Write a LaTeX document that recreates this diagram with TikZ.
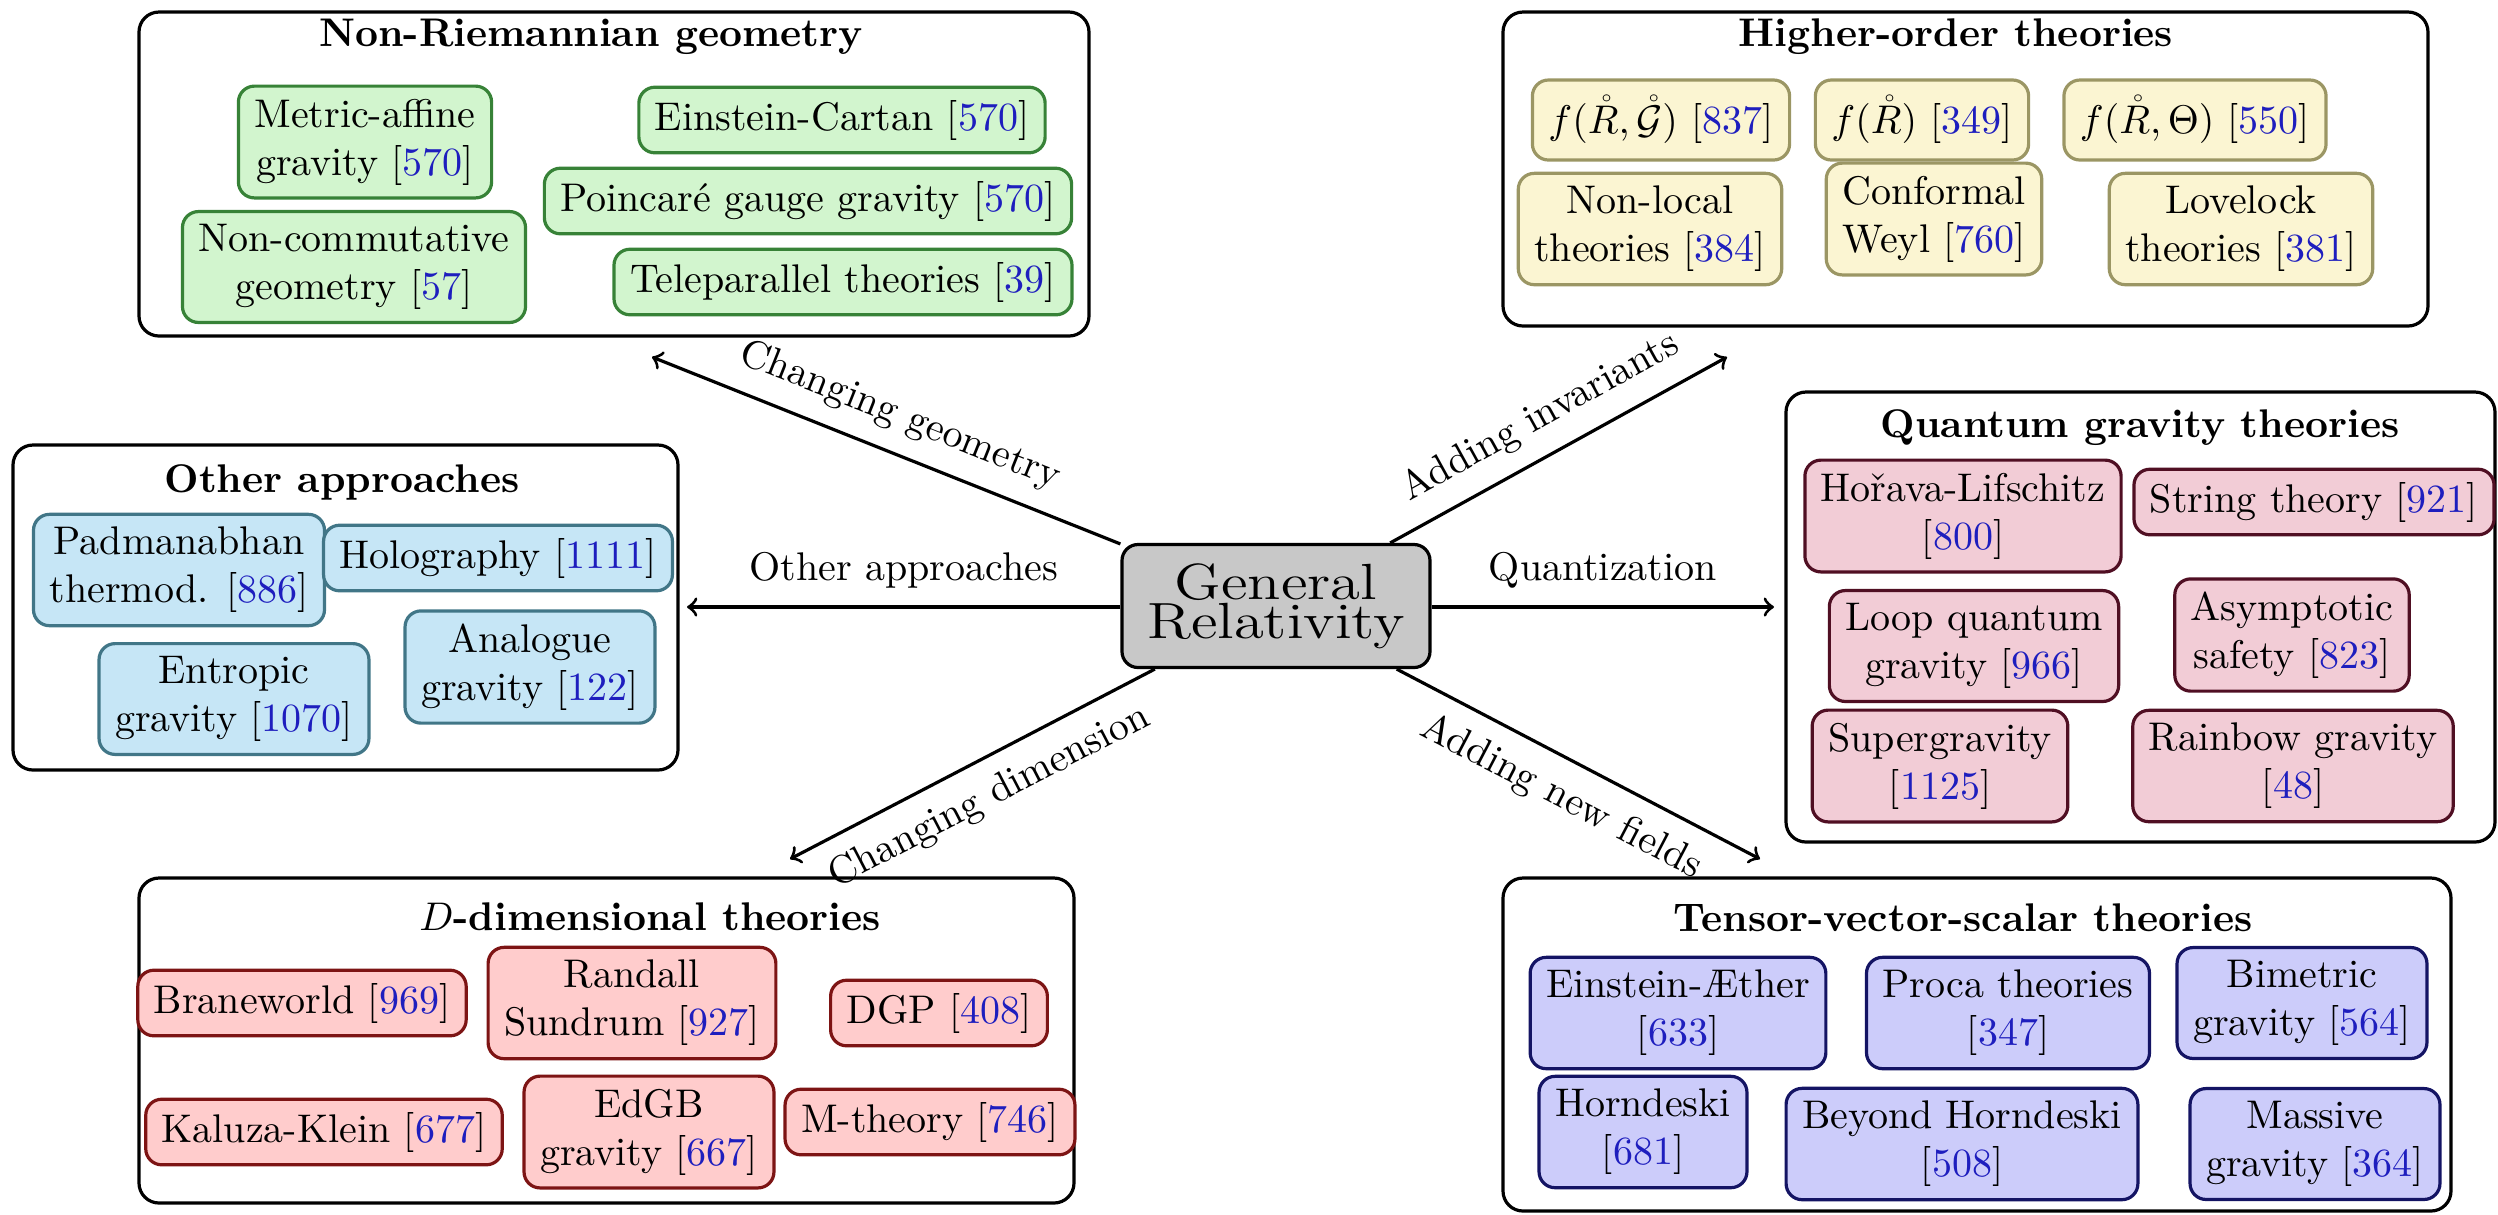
\documentclass[tikz,border=0pt]{standalone}
\usetikzlibrary{fit}
\definecolor{citeblue}{RGB}{30,30,190}
\definecolor{nrfill}{RGB}{210,245,206}
\definecolor{nrdraw}{RGB}{55,130,55}
\definecolor{hofill}{RGB}{251,245,210}
\definecolor{hodraw}{RGB}{155,150,100}
\definecolor{oafill}{RGB}{198,230,246}
\definecolor{oadraw}{RGB}{65,118,135}
\definecolor{qgfill}{RGB}{242,204,214}
\definecolor{qgdraw}{RGB}{80,15,35}
\definecolor{ddfill}{RGB}{255,204,204}
\definecolor{dddraw}{RGB}{125,20,20}
\definecolor{tvfill}{RGB}{204,204,250}
\definecolor{tvdraw}{RGB}{20,20,100}
\definecolor{grfill}{RGB}{200,200,200}
\newcommand\refn[1]{[\textcolor{citeblue}{#1}]}
\tikzset{
  item/.style={draw, thick, rounded corners=4pt, align=center,
    inner xsep=4pt, inner ysep=3.2pt},
  nr/.style={item, fill=nrfill, draw=nrdraw},
  ho/.style={item, fill=hofill, draw=hodraw},
  hom/.style={ho, minimum height=20pt},
  oa/.style={item, fill=oafill, draw=oadraw},
  qg/.style={item, fill=qgfill, draw=qgdraw},
  dd/.style={item, fill=ddfill, draw=dddraw},
  tv/.style={item, fill=tvfill, draw=tvdraw},
  group/.style={draw, thick, rounded corners=5pt, inner sep=0pt},
  gtitle/.style={font=\bfseries, inner sep=0pt},
  grnode/.style={draw, thick, fill=grfill, rounded corners=4pt,
    minimum width=77pt, minimum height=30.75pt, inner sep=0pt},
  conn/.style={->, thick},
  lab/.style={midway, sloped}
}
\begin{document}
\begin{tikzpicture}[x=0.25pt, y=-0.25pt]
\useasboundingbox (0,0) rectangle (2498,1214);

% ---------- group boxes ----------
\node[group, fit={(139,12)(1089,336)}] (nrbox) {};
\node[group, fit={(1503,12)(2428,326)}] (hobox) {};
\node[group, fit={(13,445)(678,770)}] (oabox) {};
\node[group, fit={(1786,392)(2495,842)}] (qgbox) {};
\node[group, fit={(139,878)(1074,1203)}] (ddbox) {};
\node[group, fit={(1503,878)(2451,1211)}] (tvbox) {};

% ---------- titles ----------
\node[gtitle] (nrt) at (591,37) {Non-Riemannian geometry};
\node[gtitle] (hot) at (1956,37) {Higher-order theories};
\node[gtitle] (oat) at (342,482) {Other approaches};
\node[gtitle] (qgt) at (2140,428) {Quantum gravity theories};
\node[gtitle] (ddt) at (650,917) {$D$-dimensional theories};
\node[gtitle] (tvt) at (1963,918) {Tensor-vector-scalar theories};

% ---------- Non-Riemannian ----------
\node[nr] (ma) at (365,142) {Metric-affine\\gravity \refn{570}};
\node[nr] (ec) at (842,120) {Einstein-Cartan \refn{570}};
\node[nr] (pg) at (808,201) {Poincaré gauge gravity \refn{570}};
\node[nr] (nc) at (354,267) {Non-commutative\\geometry \refn{57}};
\node[nr] (tp) at (843,282) {Teleparallel theories \refn{39}};

% ---------- Higher-order ----------
\node[hom] (f1) at (1661,120) {$f(\mathring{R},\mathring{\mathcal{G}})$ \refn{837}};
\node[hom] (f2) at (1922,120) {$f(\mathring{R})$ \refn{349}};
\node[hom] (f3) at (2195,120) {$f(\mathring{R},\Theta)$ \refn{550}};
\node[ho] (nl) at (1650,229) {Non-local\\theories \refn{384}};
\node[ho] (cw) at (1934,219) {Conformal\\Weyl \refn{760}};
\node[ho] (ll) at (2241,229) {Lovelock\\theories \refn{381}};

% ---------- Other approaches ----------
\node[oa] (pt) at (179,570) {Padmanabhan\\thermod. \refn{886}};
\node[oa] (hg) at (498,558) {Holography \refn{1111}};
\node[oa] (en) at (234,699) {Entropic\\gravity \refn{1070}};
\node[oa] (an) at (530,667) {Analogue\\gravity \refn{122}};

% ---------- Quantum gravity ----------
\node[qg] (hl) at (1963,516) {Hořava-Lifschitz\\\refn{800}};
\node[qg] (st) at (2314,502) {String theory \refn{921}};
\node[qg] (lq) at (1974,646) {Loop quantum\\gravity \refn{966}};
\node[qg] (as) at (2292,635) {Asymptotic\\safety \refn{823}};
\node[qg] (sg) at (1940,766) {Supergravity\\\refn{1125}};
\node[qg] (rb) at (2293,766) {Rainbow gravity\\\refn{48}};

% ---------- D-dimensional ----------
\node[dd] (bw) at (302,1003) {Braneworld \refn{969}};
\node[dd] (rs) at (632,1003) {Randall\\Sundrum \refn{927}};
\node[dd] (dgp) at (939,1013) {DGP \refn{408}};
\node[dd] (kk) at (324,1132) {Kaluza-Klein \refn{677}};
\node[dd] (eg) at (649,1132) {EdGB\\gravity \refn{667}};
\node[dd] (mt) at (930,1122) {M-theory \refn{746}};

% ---------- Tensor-vector-scalar ----------
\node[tv] (ea) at (1678,1013) {Einstein-Æther\\\refn{633}};
\node[tv] (pr) at (2008,1013) {Proca theories\\\refn{347}};
\node[tv] (bm) at (2302,1003) {Bimetric\\gravity \refn{564}};
\node[tv] (hd) at (1643,1132) {Horndeski\\\refn{681}};
\node[tv] (bh) at (1962,1144) {Beyond Horndeski\\\refn{508}};
\node[tv] (mg) at (2315,1144) {Massive\\gravity \refn{364}};

% ---------- centre ----------
\node[grnode] (gr) at (1276,606)
  {\scalebox{1.27}[1.06]{\parbox{60pt}{\centering\fontsize{12}{9.3}\selectfont General\\Relativity}}};

\coordinate (tUL) at (652,357);
\coordinate (tUR) at (1727,357);
\coordinate (tL) at (687,607);
\coordinate (tR) at (1774,607);
\coordinate (tLL) at (790,859);
\coordinate (tLR) at (1760,859);

\draw[conn] (gr) -- (tUL) node[lab, above=1pt] {Changing geometry};
\draw[conn] (gr) -- (tUR) node[lab, above=1pt] {Adding invariants};
\draw[conn] (gr.west |- tL) -- (tL) node[lab, above=1pt] {Other approaches};
\draw[conn] (gr.east |- tR) -- (tR) node[lab, above=1pt] {Quantization};
\draw[conn] (gr) -- (tLL) node[lab, below=1pt] {Changing dimension};
\draw[conn] (gr) -- (tLR) node[lab, below=1pt] {Adding new fields};
\end{tikzpicture}
\end{document}
